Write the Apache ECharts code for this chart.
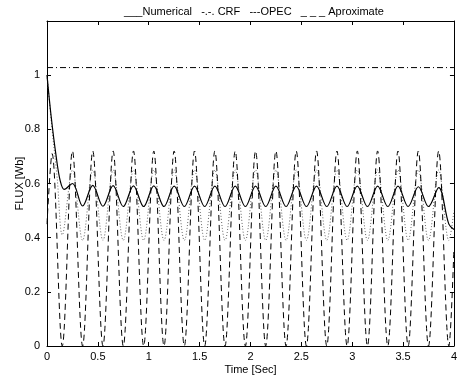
<!DOCTYPE html>
<html lang="en">
<head>
    <meta charset="UTF-8">
    <title>FLUX</title>
    <script src="https://cdn.jsdelivr.net/npm/echarts@6/dist/echarts.min.js"></script>
</head>
<body style="margin:0">
<div id="main" style="width: 460px;height: 380px"></div>
</body>

<script>

    // values
    var numTime = [0, 0.04, 0.09, 0.13, 0.17,
        0.25, 0.35, 0.45, 0.55, 0.65, 0.75, 0.85, 0.95, 1.05, 1.15, 1.25, 1.35, 1.45, 1.55, 1.65, 1.75, 1.85, 1.95,
        2.05, 2.15, 2.25, 2.35, 2.45, 2.55, 2.65, 2.75, 2.85, 2.95, 3.05, 3.15, 3.25, 3.35, 3.45, 3.55, 3.65, 3.75, 3.85,
        3.95, 4.0];
    var numFlux = [1.0, 0.85, 0.70, 0.61, 0.578,
        0.600, 0.517, 0.593, 0.516, 0.592, 0.515, 0.591, 0.515, 0.591, 0.515, 0.590, 0.515, 0.590, 0.515, 0.590, 0.515, 0.590, 0.515,
        0.590, 0.515, 0.590, 0.515, 0.590, 0.515, 0.590, 0.515, 0.590, 0.515, 0.590, 0.515, 0.590, 0.515, 0.590, 0.515, 0.588, 0.515, 0.585,
        0.45, 0.43];

    var crfTime = [0, 4];
    var crfFlux = [1.028, 1.028];

    var opecTime = [0, 0.05, 0.15, 0.25, 0.35, 0.45, 0.55, 0.65, 0.75, 0.85, 0.95, 1.05, 1.15, 1.25, 1.35, 1.45, 1.55, 1.65, 1.75, 1.85, 1.95,
        2.05, 2.15, 2.25, 2.35, 2.45, 2.55, 2.65, 2.75, 2.85, 2.95, 3.05, 3.15, 3.25, 3.35, 3.45, 3.55, 3.65, 3.75, 3.85, 3.95, 4.0];
    var opecFlux = [0.45, 0.71, 0, 0.72, 0, 0.72, 0, 0.72, 0, 0.72, 0, 0.72, 0, 0.72, 0, 0.72, 0, 0.72, 0, 0.72, 0,
        0.72, 0, 0.72, 0, 0.72, 0, 0.72, 0, 0.72, 0, 0.72, 0, 0.72, 0, 0.72, 0, 0.72, 0, 0.72, 0, 0.36];

    var apxTime = [0, 0.05, 0.10, 0.15, 0.25, 0.35, 0.45, 0.55, 0.65, 0.75, 0.85, 0.95, 1.05, 1.15, 1.25, 1.35, 1.45, 1.55, 1.65, 1.75, 1.85, 1.95,
        2.05, 2.15, 2.25, 2.35, 2.45, 2.55, 2.65, 2.75, 2.85, 2.95, 3.05, 3.15, 3.25, 3.35, 3.45, 3.55, 3.65, 3.75, 3.85, 3.95, 4.0];
    var apxFlux = [1.0, 0.80, 0.62, 0.41, 0.65, 0.39, 0.65, 0.39, 0.65, 0.39, 0.65, 0.39, 0.65, 0.39, 0.65, 0.39, 0.65, 0.39, 0.65, 0.39, 0.65, 0.39,
        0.65, 0.39, 0.65, 0.39, 0.65, 0.39, 0.65, 0.39, 0.65, 0.39, 0.65, 0.39, 0.65, 0.39, 0.65, 0.39, 0.65, 0.39, 0.65, 0.39, 0.50];

    var legendText = '___Numerical   -.-. CRF   ---OPEC   _ _ _ Aproximate';

    function pairs(xs, ys) {
        var out = [];
        for (var i = 0; i < xs.length; i++) {
            out.push([xs[i], ys[i]]);
        }
        return out;
    }

    var font = "'Liberation Sans', Arial, sans-serif";
    var myChart = echarts.init(document.getElementById('main'));

    function boxAxis(extra) {
        var ax = {
            type: 'value',
            axisLine: {show: true, onZero: false, lineStyle: {color: '#000', width: 1}},
            axisTick: {show: true, inside: true, length: 4, lineStyle: {color: '#000'}},
            splitLine: {show: false},
            axisLabel: {color: '#000', fontSize: 11, fontFamily: font}
        };
        for (var k in extra) ax[k] = extra[k];
        return ax;
    }

    var option = {
        animation: false,
        backgroundColor: '#fff',
        title: {
            text: legendText,
            left: 249,
            textAlign: 'center',
            top: 1,
            textStyle: {fontSize: 11, fontWeight: 'normal', color: '#000', fontFamily: font}
        },
        grid: {left: 47, right: 3, top: 21, bottom: 34},
        xAxis: [
            boxAxis({
                min: 0, max: 4, interval: 0.5,
                name: 'Time [Sec]', nameLocation: 'middle', nameGap: 18, nameMoveOverlap: false,
                nameTextStyle: {fontSize: 11, color: '#000', fontFamily: font},
                axisLabel: {color: '#000', fontSize: 11, fontFamily: font, margin: 5}
            }),
            boxAxis({
                min: 0, max: 4, interval: 0.5, position: 'top',
                axisLabel: {show: false}
            })
        ],
        yAxis: [
            boxAxis({
                min: 0, max: 1.2, interval: 0.2,
                name: 'FLUX [Wb]', nameLocation: 'middle', nameGap: 22, nameMoveOverlap: false,
                nameTextStyle: {fontSize: 11, color: '#000', fontFamily: font},
                axisLabel: {color: '#000', fontSize: 11, fontFamily: font, margin: 7, showMaxLabel: false}
            }),
            boxAxis({
                min: 0, max: 1.2, interval: 0.2, position: 'right',
                axisLabel: {show: false}
            })
        ],
        series: [{
            name: 'Aproximate',
            type: 'line',
            data: pairs(apxTime, apxFlux),
            smooth: 0.35,
            symbol: 'none',
            lineStyle: {color: '#666', width: 1, type: [1, 2]}
        }, {
            name: 'OPEC',
            type: 'line',
            data: pairs(opecTime, opecFlux),
            smooth: 0.35,
            symbol: 'none',
            lineStyle: {color: '#000', width: 1, type: [6, 4]}
        }, {
            name: 'CRF',
            type: 'line',
            data: pairs(crfTime, crfFlux),
            symbol: 'none',
            lineStyle: {color: '#000', width: 1, type: [6, 3, 1, 3]}
        }, {
            name: 'Numerical',
            type: 'line',
            data: pairs(numTime, numFlux),
            smooth: 0.35,
            symbol: 'none',
            lineStyle: {color: '#000', width: 1.2}
        }]
    };

    myChart.setOption(option);

</script>

</html>
